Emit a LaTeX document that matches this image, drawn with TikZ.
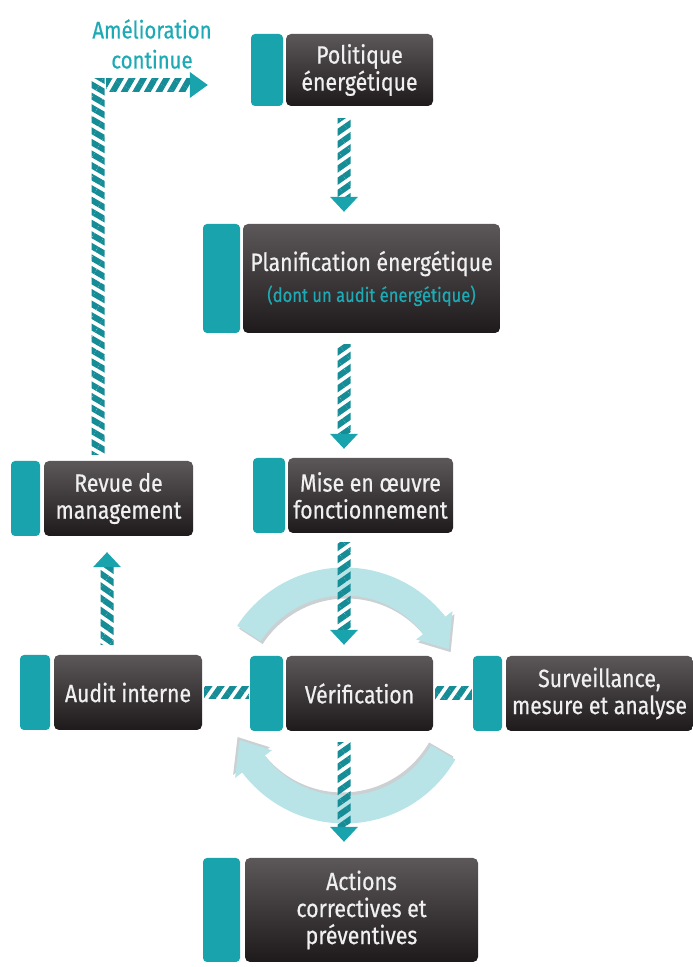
\documentclass[tikz,border=0pt]{standalone}
\usepackage{fontspec}
\setmainfont{Fira Sans}[FakeStretch=0.85,FakeBold=0.6]
\usetikzlibrary{calc,patterns.meta,backgrounds}
\definecolor{tealA}{RGB}{24,163,173}
\definecolor{tealS}{RGB}{22,140,150}
\definecolor{arcC}{RGB}{184,228,232}
\definecolor{arcS}{RGB}{203,208,210}
\definecolor{dtop}{RGB}{92,87,88}
\definecolor{dbot}{RGB}{30,26,27}
\definecolor{txtT}{RGB}{30,170,180}
\tikzset{
 tealpart/.style={fill=tealA, rounded corners=4pt, inner sep=0pt},
 darkpart/.style={rounded corners=5pt, top color=dtop, bottom color=dbot, text=white!94!black, align=center, inner sep=0pt, font=\fontsize{25}{27}\selectfont},
 hatch/.style={pattern={Lines[angle=#1,distance=10pt,line width=6pt]}, pattern color=tealS},
 head/.style={fill=tealA},
 ringarc/.style={fill=arcC},
 ringshadow/.style={fill=arcS},
}
\newcommand\hdown[3]{%
 \path[hatch=#3] ($(#1)+(-6.5,0)$) rectangle ($(#2)+(6.5,15)$);
 \fill[head] ($(#2)+(-14,15)$) -- ($(#2)+(14,15)$) -- (#2) -- cycle;}
\newcommand\hup[3]{%
 \path[hatch=#3] ($(#1)+(-6.5,0)$) rectangle ($(#2)+(6.5,-15)$);
 \fill[head] ($(#2)+(-14,-15)$) -- ($(#2)+(14,-15)$) -- (#2) -- cycle;}
\begin{document}
\begin{tikzpicture}[x=1pt,y=1pt]
\useasboundingbox (0,0) rectangle (693,967);
% boxes
\node[tealpart, minimum width=32pt, minimum height=72pt] (polT) at (267,897) {};
\node[darkpart, minimum width=147pt, minimum height=72pt] (pol) at (359.5,897) {Politique\\énergétique};
\node[tealpart, minimum width=37pt, minimum height=109pt] (planT) at (221.5,688.5) {};
\node[darkpart, minimum width=257pt, minimum height=109pt] (plan) at (371.5,688.5) {Planification énergétique\\[4pt]{\fontsize{19.5}{22}\selectfont\color{txtT}(dont un audit énergétique)}};
\node[tealpart, minimum width=32pt, minimum height=75pt] (miseT) at (269,471.5) {};
\node[darkpart, minimum width=165pt, minimum height=75pt] (mise) at (370.5,471.5) {Mise en œuvre\\fonctionnement};
\node[tealpart, minimum width=29pt, minimum height=75pt] (revT) at (25.5,468.5) {};
\node[darkpart, minimum width=149pt, minimum height=75pt] (rev) at (118.5,468.5) {Revue de\\management};
\node[tealpart, minimum width=30pt, minimum height=75pt] (audT) at (35,274.5) {};
\node[darkpart, minimum width=148pt, minimum height=75pt] (aud) at (128,274.5) {Audit interne};
\node[tealpart, minimum width=33pt, minimum height=75pt] (verT) at (266.5,273.5) {};
\node[darkpart, minimum width=147pt, minimum height=75pt] (ver) at (359.5,273.5) {Vérification};
\node[tealpart, minimum width=29pt, minimum height=75pt] (surT) at (487.5,273.5) {};
\node[darkpart, minimum width=187pt, minimum height=75pt] (sur) at (599.5,273.5) {Surveillance,\\mesure et analyse};
\node[tealpart, minimum width=37pt, minimum height=104pt] (actT) at (221.5,57) {};
\node[darkpart, minimum width=233pt, minimum height=104pt] (act) at (361.5,57) {Actions\\correctives et\\préventives};
\node[text=txtT, align=center, font=\fontsize{24}{30}\selectfont] (amel) at (152,923) {Amélioration\\continue};
% ring arrows
\begin{scope}[on background layer]
\coordinate (cc) at ($(ver.center)+(-15,-2)$);
\fill[ringshadow] ($(cc)+(2,-3)$) ++(147:128) arc[start angle=147, end angle=38, radius=128] -- ($(cc)+(2,-3)+(38:137)$) -- ($(cc)+(2,-3)+(24:114)$) -- ($(cc)+(2,-3)+(38:91)$) -- ($(cc)+(2,-3)+(38:100)$) arc[start angle=38, end angle=147, radius=100] -- cycle;
\fill[ringarc] (cc) ++(147:128) arc[start angle=147, end angle=38, radius=128] -- ($(cc)+(38:137)$) -- ($(cc)+(24:114)$) -- ($(cc)+(38:91)$) -- ($(cc)+(38:100)$) arc[start angle=38, end angle=147, radius=100] -- cycle;
\fill[ringshadow] ($(cc)+(-2,3)$) ++(-30:128) arc[start angle=-30, end angle=-143, radius=128] -- ($(cc)+(-2,3)+(-143:137)$) -- ($(cc)+(-2,3)+(-157:114)$) -- ($(cc)+(-2,3)+(-143:91)$) -- ($(cc)+(-2,3)+(-143:100)$) arc[start angle=-143, end angle=-30, radius=100] -- cycle;
\fill[ringarc] (cc) ++(-30:128) arc[start angle=-30, end angle=-143, radius=128] -- ($(cc)+(-143:137)$) -- ($(cc)+(-157:114)$) -- ($(cc)+(-143:91)$) -- ($(cc)+(-143:100)$) arc[start angle=-143, end angle=-30, radius=100] -- cycle;
\end{scope}
% hatched connectors
\coordinate (ax) at (344,0);
\coordinate (ux) at (107,0);
\coordinate (lx) at (98,0);
\coordinate (a1s) at ($(pol.south -| ax)+(0,-12)$);
\coordinate (a1e) at ($(plan.north -| ax)+(0,12)$);
\coordinate (a2s) at ($(plan.south -| ax)+(0,-11)$);
\coordinate (a2e) at ($(mise.north -| ax)+(0,9)$);
\coordinate (a3s) at ($(mise.south -| ax)+(0,-9)$);
\coordinate (a3e) at ($(ver.north -| ax)+(0,11)$);
\coordinate (a4s) at ($(ver.south -| ax)+(0,-11)$);
\coordinate (a4e) at ($(act.north -| ax)+(0,16)$);
\coordinate (a5s) at ($(aud.north -| ux)+(0,10)$);
\coordinate (a5e) at ($(rev.south -| ux)+(0,-16)$);
\hdown{a1s}{a1e}{35}
\hdown{a2s}{a2e}{35}
\hdown{a3s}{a3e}{35}
\hdown{a4s}{a4e}{35}
\hup{a5s}{a5e}{-35}
% long return arrow
\coordinate (ls) at ($(rev.north -| lx)+(0,6)$);
\coordinate (lc) at (98,882);
\coordinate (lt) at ($(polT.west)+(-43,-15)$);
\path[hatch=-30] ($(ls)+(-6.5,0)$) rectangle ($(lc)+(6.5,6.5)$);
\path[hatch=60] ($(lc)+(8,-6.5)$) rectangle ($(lt)+(-18,6.5)$);
\fill[head] ($(lt)+(-18,-13)$) -- ($(lt)+(-18,13)$) -- (lt) -- cycle;
% horizontal links
\path[hatch=55] ($(aud.east)+(2,-6.5)$) rectangle ($(verT.west)+(-1,6.5)$);
\path[hatch=55] ($(ver.east)+(2,-6.5)$) rectangle ($(surT.west)+(-1,6.5)$);
\end{tikzpicture}
\end{document}
